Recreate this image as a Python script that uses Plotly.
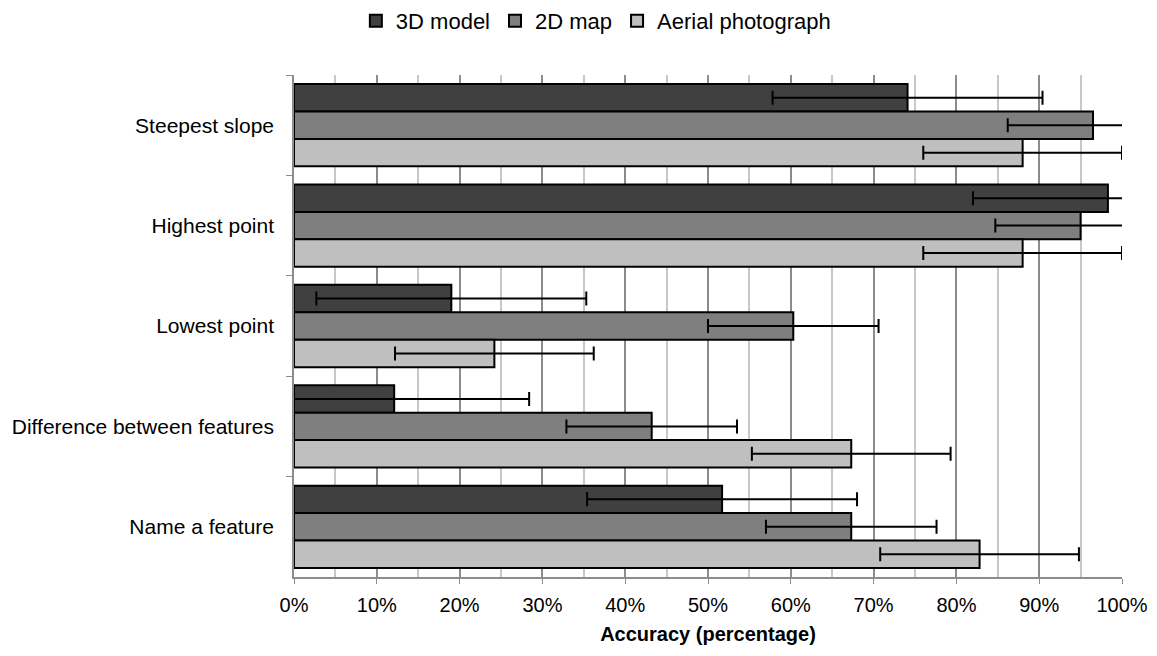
import plotly.graph_objects as go

# Task categories, top to bottom
categories = ["Steepest slope", "Highest point", "Lowest point",
              "Difference between features", "Name a feature"]

# Accuracy (%) per representation
model_3d = [74.1, 98.3, 19.0, 12.1, 51.7]
map_2d = [96.5, 95.0, 60.3, 43.2, 67.3]
aerial = [88.0, 88.0, 24.2, 67.3, 82.8]

# Error bar half-widths (%)
err_3d = [16.3, 16.3, 16.3, 16.3, 16.3]
err_2d = [10.3, 10.3, 10.3, 10.3, 10.3]
err_aerial = [12.0, 12.0, 12.0, 12.0, 12.0]

series = [
    ("3D model", model_3d, err_3d, "#404040"),
    ("2D map", map_2d, err_2d, "#7f7f7f"),
    ("Aerial photograph", aerial, err_aerial, "#bfbfbf"),
]

FONT = "Liberation Sans, Arial, sans-serif"

fig = go.Figure()
for name, vals, errs, color in series:
    fig.add_trace(go.Bar(
        name=name, y=categories, x=vals, orientation="h",
        marker=dict(color=color, line=dict(color="#000000", width=2)),
        error_x=dict(type="data", array=errs, visible=True,
                     color="#000000", thickness=2, width=7),
    ))

fig.update_layout(
    width=1157, height=656,
    paper_bgcolor="white", plot_bgcolor="white",
    barmode="group", bargap=0.18, bargroupgap=0,
    margin=dict(l=294, r=35, t=75, b=79, autoexpand=False),
    font=dict(family=FONT, size=20, color="#000000"),
    legend=dict(orientation="h", xref="container", x=0.515, xanchor="center",
                yref="container", y=1.0, yanchor="top",
                font=dict(size=22), itemwidth=30, traceorder="normal",
                tracegroupgap=0),
    showlegend=True,
)

fig.update_xaxes(
    range=[0, 100], dtick=10, ticksuffix="%", automargin=False,
    showgrid=True, gridcolor="#8c8c8c", gridwidth=1.5,
    minor=dict(dtick=5, showgrid=True, gridcolor="#c8c8c8", gridwidth=1.5),
    showline=True, linecolor="#8c8c8c", linewidth=1.5,
    ticks="outside", ticklen=5, tickcolor="#8c8c8c",
    tickfont=dict(size=20), ticklabelstandoff=4,
    title=dict(text="<b>Accuracy (percentage)</b>", font=dict(size=20),
               standoff=12),
    zeroline=False,
)

fig.update_yaxes(
    autorange="reversed", tickson="boundaries", automargin=False,
    showline=True, linecolor="#8c8c8c", linewidth=1.5,
    ticks="outside", ticklen=6, tickcolor="#8c8c8c",
    tickfont=dict(size=21), ticklabelstandoff=14,
    showgrid=False,
)

fig.write_html("out.html")
